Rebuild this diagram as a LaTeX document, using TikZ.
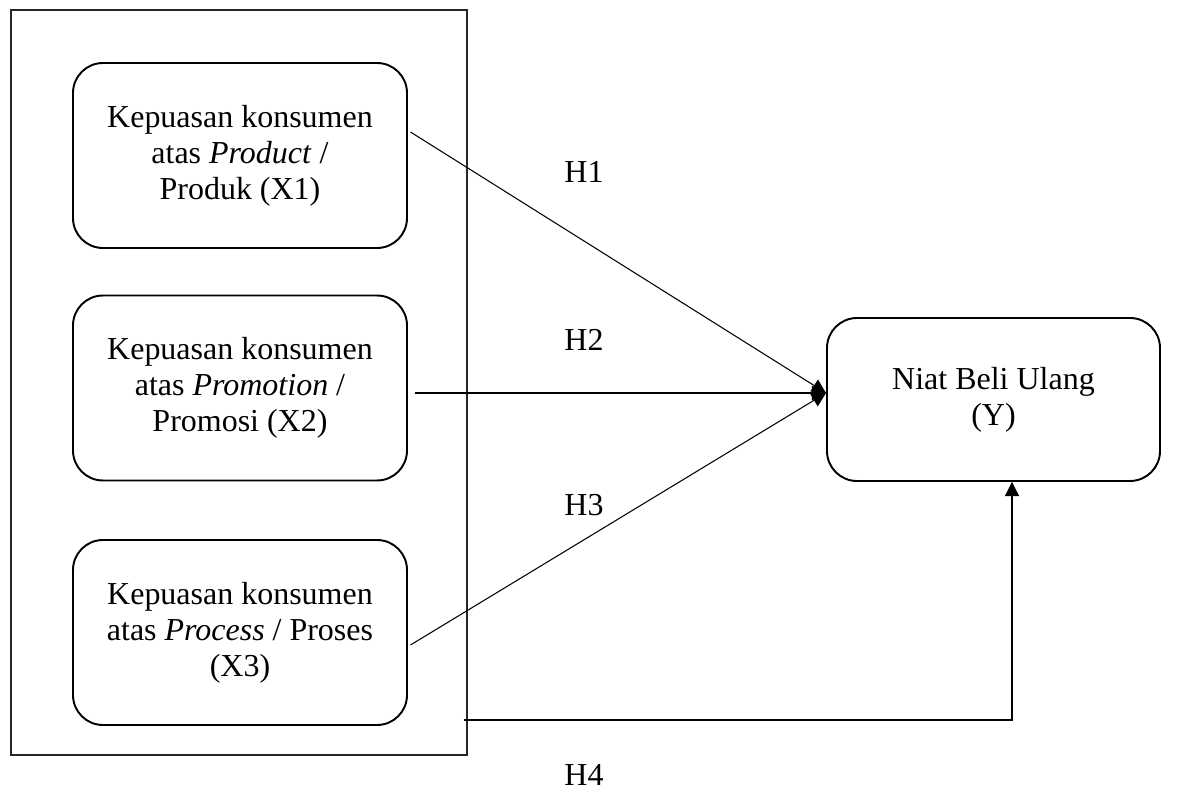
\documentclass[tikz,border=0pt]{standalone}
\usepackage{fontspec}
\setmainfont{Liberation Serif}
\usepackage{tikz}
\usetikzlibrary{arrows.meta,positioning,calc}

\begin{document}
\begin{tikzpicture}[
    every node/.style={font=\fontsize{18.2}{20.4}\selectfont, align=center, inner sep=0pt},
    var/.style={draw=black, line width=1.1pt, rounded corners=0.6cm,
      minimum width=6.68cm, minimum height=3.7cm},
    grp/.style={draw=black!85, line width=0.8pt, minimum width=9.12cm, minimum height=14.9cm},
    hyp/.style={-{Triangle[length=8pt,width=8pt]}, line width=0.6pt}
  ]
    \useasboundingbox (0,0) rectangle (23.92,-15.88);
    % Independent variables
    \node[grp] (frame) at (4.78,-7.65) {};
    \node[var] (x1) at (4.8,-3.11) {Kepuasan konsumen\\atas \textit{Product} /\\Produk (X1)};
    \node[var] (x2) at (4.8,-7.76) {Kepuasan konsumen\\atas \textit{Promotion} /\\Promosi (X2)};
    \node[var] (x3) at (4.8,-12.65) {Kepuasan konsumen\\atas \textit{Process} / Proses\\(X3)};
    % Dependent variable
    \node[var, minimum width=6.66cm, minimum height=3.26cm] (y) at (19.87,-7.99) {Niat Beli Ulang\\(Y)};
    % Labels
    \node (h1) at (11.68,-3.44) {H1};
    \node (h2) at (11.68,-6.8) {H2};
    \node (h3) at (11.68,-10.1) {H3};
    \node (h4) at (11.68,-15.5) {H4};
    % Arrows
    \coordinate (tip) at ([yshift=1.3mm]y.west);
    \draw[hyp] ([xshift=0.5mm,yshift=4.7mm]x1.east) -- (tip);
    \draw[hyp] ([xshift=1.4mm]x2.east |- tip) -- (tip);
    \draw[hyp] ([xshift=0.5mm,yshift=-2.5mm]x3.east) -- (tip);
    \draw[hyp] ([xshift=-0.8mm,yshift=-6.75cm]frame.east) -| ([xshift=3.7mm]y.south);
  \end{tikzpicture}
\end{document}
